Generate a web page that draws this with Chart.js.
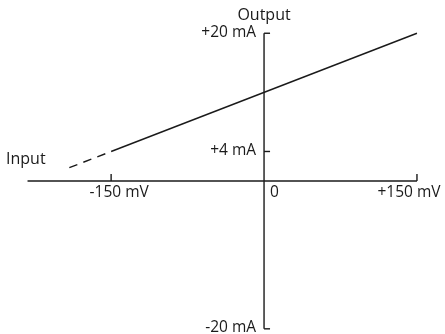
<!DOCTYPE html>
<html>
<head>
<meta charset="utf-8">
<script src="https://cdn.jsdelivr.net/npm/chart.js@4.4.0/dist/chart.umd.min.js"></script>
<style>
  html, body { margin: 0; padding: 0; background: #fff; }
  #wrap { width: 445px; height: 334px; }
</style>
</head>
<body>
<div id="wrap"><canvas id="transferChart"></canvas></div>
<script>
// transfer curve: input mV -> output mA
var solidLine = [{x: -150, y: 4}, {x: 150, y: 20}];
var dashedLine = [{x: -191, y: 1.81}, {x: -150, y: 4}];
// axes drawn as data
var xAxisLine = [{x: -232, y: 0}, {x: 150, y: 0}];
var yAxisLine = [{x: 0, y: -20}, {x: 0, y: 20}];
// tick marks and labels
var xTicks = [-150, 150];
var xTickLabels = ["-150 mV", "+150 mV"];
var yTicks = [20, 4, -20];
var yTickLabels = ["+20 mA", "+4 mA", "-20 mA"];
var xAxisTitle = "Input";
var yAxisTitle = "Output";

var ink = "#1a1a1a";
var fontName = "'Open Sans', 'Noto Sans', sans-serif";

var labelsPlugin = {
    id: 'axisLabels',
    afterDatasetsDraw: function (chart) {
        var ctx = chart.ctx;
        var xs = chart.scales.x, ys = chart.scales.y;
        var x0 = xs.getPixelForValue(0), y0 = ys.getPixelForValue(0);
        ctx.save();
        ctx.strokeStyle = ink;
        ctx.lineWidth = 1.4;
        ctx.fillStyle = ink;
        ctx.font = "15.5px " + fontName;
        ctx.textBaseline = "middle";

        // y ticks (to the right of the axis)
        yTicks.forEach(function (v, i) {
            var py = ys.getPixelForValue(v);
            ctx.beginPath();
            ctx.moveTo(x0, py);
            ctx.lineTo(x0 + 6, py);
            ctx.stroke();
            ctx.textAlign = "right";
            ctx.fillText(yTickLabels[i], x0 - 8, py - 1);
        });

        // x ticks (upwards from the axis)
        xTicks.forEach(function (v, i) {
            var px = xs.getPixelForValue(v);
            ctx.beginPath();
            ctx.moveTo(px, y0);
            ctx.lineTo(px, y0 - 7);
            ctx.stroke();
            ctx.textAlign = "center";
            ctx.fillText(xTickLabels[i], px + (v < 0 ? 8 : -8), y0 + 12);
        });
        ctx.textAlign = "left";
        ctx.fillText("0", x0 + 6, y0 + 12);

        ctx.font = "16px " + fontName;
        ctx.textAlign = "left";
        ctx.fillText(xAxisTitle, 6, y0 - 22);
        ctx.textAlign = "center";
        ctx.fillText(yAxisTitle, x0, ys.getPixelForValue(20) - 18);
        ctx.restore();
    }
};

var ctx = document.getElementById("transferChart");
var chart = new Chart(ctx, {
    type: 'scatter',
    data: {
        datasets: [{
            data: xAxisLine,
            showLine: true,
            borderColor: ink,
            borderWidth: 1.4,
            pointRadius: 0
        }, {
            data: yAxisLine,
            showLine: true,
            borderColor: ink,
            borderWidth: 1.4,
            pointRadius: 0
        }, {
            data: solidLine,
            showLine: true,
            borderColor: ink,
            borderWidth: 1.4,
            pointRadius: 0
        }, {
            data: dashedLine,
            showLine: true,
            borderColor: ink,
            borderWidth: 1.4,
            borderDash: [8.6, 6.4],
            pointRadius: 0
        }]
    },
    options: {
        responsive: true,
        maintainAspectRatio: false,
        animation: false,
        layout: { padding: 0 },
        plugins: {
            legend: { display: false },
            tooltip: { enabled: false }
        },
        scales: {
            x: { type: 'linear', display: false, min: -259, max: 177.5 },
            y: { type: 'linear', display: false, min: -20.7, max: 24.5 }
        }
    },
    plugins: [labelsPlugin]
});
</script>
</body>
</html>
